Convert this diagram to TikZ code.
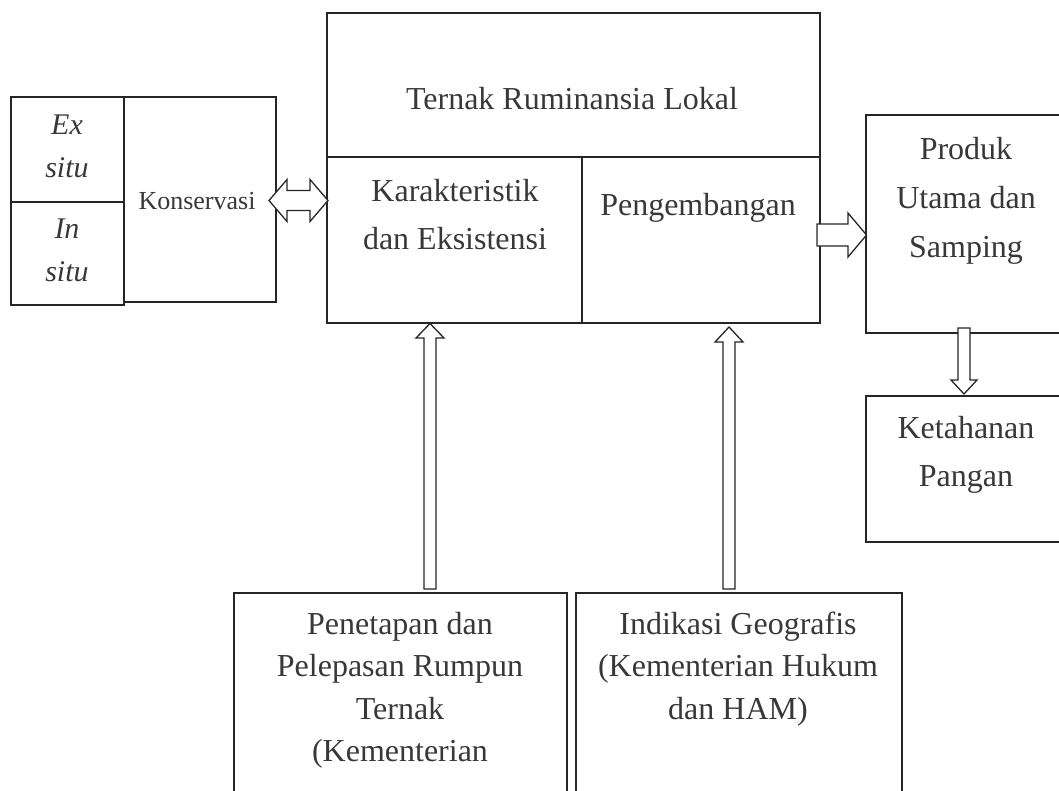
\documentclass[tikz,border=0pt]{standalone}
\usepackage{fontspec}
\setmainfont{Liberation Serif}
\begin{document}
\begin{tikzpicture}[x=1pt,y=-1pt,
  box/.style={draw=black!85, line width=1.6pt, inner sep=0pt, outer sep=0pt, anchor=north west},
  txt/.style={font=\fontsize{32}{48}\selectfont, text=black!78, align=center, inner sep=0pt, anchor=base},
  txtb/.style={txt, font=\fontsize{32}{42.5}\selectfont},
  txtl/.style={txt, font=\fontsize{30}{43}\selectfont\itshape},
  barrow/.style={draw=black!85, line width=1.3pt, fill=white, line join=miter}]
\useasboundingbox (0,0) rectangle (1059,790);
\clip (0,0) rectangle (1059,790);

% boxes
\node[box, minimum width=113pt, minimum height=105pt] (exbox) at (11,97) {};
\node[box, minimum width=113pt, minimum height=103pt] (inbox) at (11,202) {};
\node[box, minimum width=152pt, minimum height=205pt] (kons) at (124,97) {};
\node[box, minimum width=493pt, minimum height=144pt] (ternak) at (327,13) {};
\node[box, minimum width=255pt, minimum height=166pt] (karak) at (327,157) {};
\node[box, minimum width=238pt, minimum height=166pt] (peng) at (582,157) {};
\node[box, minimum width=220pt, minimum height=218pt] (produk) at (866,115) {};
\node[box, minimum width=220pt, minimum height=146pt] (ketahanan) at (866,396) {};
\node[box, minimum width=333pt, minimum height=220pt] (penetapan) at (234,593) {};
\node[box, minimum width=326pt, minimum height=220pt] (indikasi) at (576,593) {};

% texts (anchor = baseline of the last line)
\node[txtl] (tex) at (67,177) {Ex\\situ};
\node[txtl] (tin) at (67,281) {In\\situ};
\node[txt, font=\fontsize{26}{30}\selectfont] (tkons) at (197,209) {Konservasi};
\node[txt] (tternak) at (572,109) {Ternak Ruminansia Lokal};
\node[txt] (tkarak) at (455,249) {Karakteristik\\dan Eksistensi};
\node[txt] (tpeng) at (698,215) {Pengembangan};
\node[txt, font=\fontsize{32}{49}\selectfont] (tprod) at (966,257) {Produk\\Utama dan\\Samping};
\node[txt] (tketa) at (966,486) {Ketahanan\\Pangan};
\node[txtb] (tpen) at (400,761.5) {Penetapan dan\\Pelepasan Rumpun\\Ternak\\(Kementerian};
\node[txtb] (tind) at (738,719) {Indikasi Geografis\\(Kementerian Hukum\\dan HAM)};

% block arrows
% Konservasi <-> main
\draw[barrow] (269,200.5) -- (287,179.5) -- (287,190.5) -- (310,190.5) -- (310,179.5)
  -- (328,200.5) -- (310,221.5) -- (310,210.5) -- (287,210.5) -- (287,221.5) -- cycle;
% main -> produk
\draw[barrow] (817,224) -- (848,224) -- (848,213) -- (866.5,235) -- (848,257)
  -- (848,246) -- (817,246) -- cycle;
% produk -> ketahanan
\draw[barrow] (958,328) -- (970,328) -- (970,380) -- (977,380) -- (964,394)
  -- (951,380) -- (958,380) -- cycle;
% penetapan -> karak
\draw[barrow] (424,589) -- (424,338) -- (416,338) -- (430,323.5) -- (444,338)
  -- (436,338) -- (436,589) -- cycle;
% indikasi -> peng
\draw[barrow] (723,589) -- (723,342) -- (715,342) -- (729,327) -- (743,342)
  -- (735,342) -- (735,589) -- cycle;
\end{tikzpicture}
\end{document}
